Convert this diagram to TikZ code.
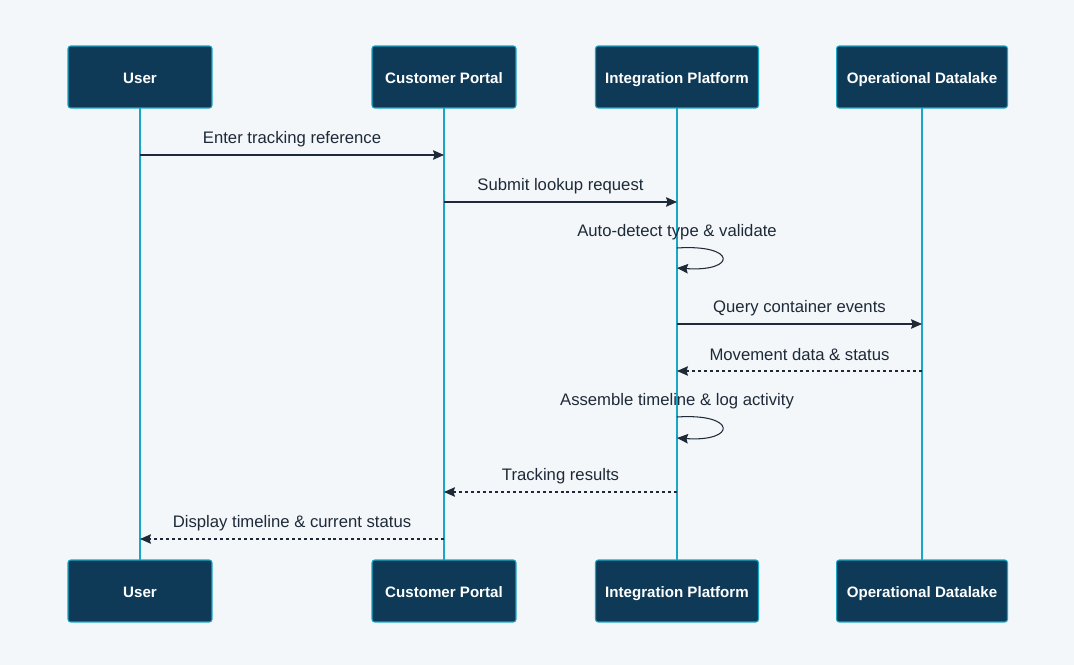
\documentclass[tikz,border=0pt]{standalone}
\usepackage{fontspec}
\setmainfont{Liberation Sans}
\usepackage{xcolor}
\usetikzlibrary{arrows.meta, positioning, calc}

\definecolor{pagebg}{HTML}{F4F7FA}
\definecolor{actorfill}{HTML}{0E3A58}
\definecolor{lifecyan}{HTML}{17A8C8}
\definecolor{msgtext}{HTML}{1E2A38}

\tikzset{
  actor/.style={draw=lifecyan, fill=actorfill, rounded corners=1.5pt, line width=0.6pt,
    minimum height=1.24cm, text=white, font=\bfseries\fontsize{8.6}{10}\selectfont,
    text height=7.6pt, text depth=0.7pt},
  lifeline/.style={draw=lifecyan, line width=1.1pt},
  msg/.style={draw=msgtext, line width=0.6pt, -{Stealth[length=0.22cm, width=0.19cm, inset=0.03cm]}},
  reply/.style={msg, dash pattern=on 1.7pt off 1.7pt},
  msglabel/.style={text=msgtext, font=\fontsize{9.5}{11}\selectfont, inner sep=0pt}
}

\begin{document}
\begin{tikzpicture}[x=0.02cm, y=-0.02cm]
  \fill[pagebg] (0,0) rectangle (1074,665);
  \useasboundingbox (0,0) rectangle (1074,665);

  % lifelines first, boxes on top
  \draw[lifeline] (140,108) -- (140,560);
  \draw[lifeline] (444,108) -- (444,560);
  \draw[lifeline] (677,108) -- (677,560);
  \draw[lifeline] (922,108) -- (922,560);

  % actors, top row
  \node[actor, minimum width=2.88cm] (userT)   at (140,77) {User};
  \node[actor, minimum width=2.88cm] (portalT) at (444,77) {Customer Portal};
  \node[actor, minimum width=3.26cm] (platT)   at (677,77) {Integration Platform};
  \node[actor, minimum width=3.42cm] (lakeT)   at (922,77) {Operational Datalake};

  % actors, bottom row
  \node[actor, minimum width=2.88cm] (userB)   at (140,591) {User};
  \node[actor, minimum width=2.88cm] (portalB) at (444,591) {Customer Portal};
  \node[actor, minimum width=3.26cm] (platB)   at (677,591) {Integration Platform};
  \node[actor, minimum width=3.42cm] (lakeB)   at (922,591) {Operational Datalake};

  % message rows
  \coordinate (r1) at (0,155);
  \coordinate (r2) at (0,202);
  \coordinate (r3) at (0,248);
  \coordinate (r4) at (0,324);
  \coordinate (r5) at (0,371);
  \coordinate (r6) at (0,417);
  \coordinate (r7) at (0,492);
  \coordinate (r8) at (0,539);

  \draw[msg] (userT.south |- r1) -- (portalT.south |- r1)
      node[msglabel, midway, yshift=0.32cm] {Enter tracking reference};
  \draw[msg] (portalT.south |- r2) -- (platT.south |- r2)
      node[msglabel, midway, yshift=0.32cm] {Submit lookup request};

  % self call: validate
  \coordinate (loopA) at ($(platT.south |- r3)$);
  \coordinate (loopB) at ($(loopA)+(0,20)$);
  \draw[msg] (loopA) .. controls +(60,-4) and +(60,4) .. (loopB);
  \node[msglabel] (selfA) at ($(loopA)+(0,-16)$) {Auto-detect type \& validate};

  \draw[msg] (platT.south |- r4) -- (lakeT.south |- r4)
      node[msglabel, midway, yshift=0.32cm] {Query container events};
  \draw[reply] (lakeT.south |- r5) -- (platT.south |- r5)
      node[msglabel, midway, yshift=0.32cm] {Movement data \& status};

  % self call: assemble
  \coordinate (loopC) at ($(platT.south |- r6)$);
  \coordinate (loopD) at ($(loopC)+(0,21)$);
  \draw[msg] (loopC) .. controls +(60,-4) and +(60,4) .. (loopD);
  \node[msglabel] (selfB) at ($(loopC)+(0,-16)$) {Assemble timeline \& log activity};

  \draw[reply] (platT.south |- r7) -- (portalT.south |- r7)
      node[msglabel, midway, yshift=0.32cm] {Tracking results};
  \draw[reply] (portalT.south |- r8) -- (userT.south |- r8)
      node[msglabel, midway, yshift=0.32cm] {Display timeline \& current status};
\end{tikzpicture}
\end{document}
